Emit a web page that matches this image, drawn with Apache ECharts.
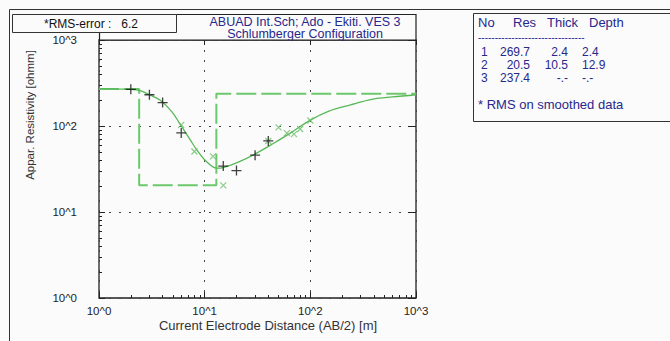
<!DOCTYPE html>
<html>
<head>
<meta charset="utf-8">
<script src="https://cdn.jsdelivr.net/npm/echarts@6.0.0/dist/echarts.min.js"></script>
<style>
  html, body { margin: 0; padding: 0; background: #fbfbfb; }
  #VesChart { width: 670px; height: 341px; }
</style>
</head>
<body>
<div id="VesChart"></div>
<script>
// layered model (table on the right)
const layerNo = [1, 2, 3];
const layerRes = [269.7, 20.5, 237.4];
const layerThick = [2.4, 10.5];
const layerDepth = [2.4, 12.9];
const rmsError = 6.2;

// field data (+)
const obsX = [2, 3, 4, 6, 15, 20, 30, 40];
const obsY = [267, 231, 187, 83, 34.2, 30.3, 45.8, 67];

// smoothed data (x)
const smoX = [6, 8, 12, 15, 40, 50, 60, 70, 80, 100];
const smoY = [103, 50.5, 44.3, 20.4, 67, 96.4, 82.6, 80.4, 92.3, 116];

// model response curve
const curveX = [1, 1.6, 2.4, 3, 3.8, 4.9, 5.8, 7.3, 8.4, 10, 13, 15, 21.6, 31, 45, 64, 100, 150, 240, 390, 600, 1000];
const curveY = [272, 269, 260, 231, 199, 146, 107, 69, 53, 40.5, 32.4, 32.9, 38.7, 48.3, 63, 82, 117, 149, 176, 205, 218, 231];

// axis ticks
const decades = [1, 10, 100, 1000];
const minorTicks = [];
for (let d = 0; d < 3; d++) {
    for (let k = 2; k <= 9; k++) minorTicks.push(k * decades[d]);
}

const green = '#58b858';
const blue = '#26288c';
const font = 'Liberation Sans, Arial, sans-serif';

// step line of the model
let modelLine = [[1, layerRes[0]]];
for (let i = 0; i < layerDepth.length; i++) {
    modelLine.push([layerDepth[i], layerRes[i]]);
    modelLine.push([layerDepth[i], layerRes[i + 1]]);
}
modelLine.push([1000, layerRes[layerRes.length - 1]]);

const pack = (xs, ys) => xs.map((x, i) => [x, ys[i]]);
const powLabel = v => '10^' + Math.round(Math.log10(v));

const logAxis = (extra) => Object.assign({
    type: 'log', logBase: 10, min: 1, max: 1000,
    axisLine: { show: false },
    axisTick: { show: false },
    axisLabel: { show: false },
    splitLine: { show: false }
}, extra);

// table texts
const tableX = { no: 481, res: 530, thick: 568, depth: 582 };
let tableTexts = [
    { type: 'text', left: 478, top: 16, style: { text: 'No', fill: blue, font: '13px ' + font } },
    { type: 'text', left: 513, top: 16, style: { text: 'Res', fill: blue, font: '13px ' + font } },
    { type: 'text', left: 547, top: 16, style: { text: 'Thick', fill: blue, font: '13px ' + font } },
    { type: 'text', left: 589, top: 16, style: { text: 'Depth', fill: blue, font: '13px ' + font } },
    { type: 'text', left: 478, top: 32, style: { text: '--------------------------------', fill: blue, font: '10px ' + font } },
    { type: 'text', left: 478, top: 98, style: { text: '* RMS on smoothed data', fill: blue, font: '13px ' + font } }
];
layerNo.forEach((n, i) => {
    const y = 52 + i * 13.2;
    const th = i < layerThick.length ? String(layerThick[i]) : '-.-';
    const dp = i < layerDepth.length ? String(layerDepth[i]) : '-.-';
    const cell = (x, text, align) => ({
        type: 'text', x: x, y: y,
        style: { text: text, fill: blue, font: '12px ' + font, textAlign: align, textVerticalAlign: 'middle' }
    });
    tableTexts.push(cell(tableX.no, String(n), 'left'));
    tableTexts.push(cell(tableX.res, layerRes[i].toFixed(1), 'right'));
    tableTexts.push(cell(tableX.thick, th, 'right'));
    tableTexts.push(cell(tableX.depth, dp, 'left'));
});

const chart = echarts.init(document.getElementById('VesChart'), null, { renderer: 'svg' });

chart.setOption({
    backgroundColor: '#fbfbfb',
    animation: false,
    grid: {
        left: 99, right: 254, top: 40, bottom: 43,
        show: true, borderColor: '#222', borderWidth: 1.3
    },
    xAxis: [
        logAxis({
            position: 'bottom',
            axisTick: { show: true, inside: true, length: 6, lineStyle: { color: '#222' } },
            axisLabel: { show: true, formatter: powLabel, margin: 7, color: '#222', fontSize: 11.5, fontFamily: font },
            splitLine: { show: true, lineStyle: { color: '#444', type: [2, 8], width: 1 } }
        }),
        logAxis({
            position: 'bottom',
            axisTick: { show: true, inside: true, length: 3, customValues: minorTicks, lineStyle: { color: '#222' } }
        }),
        logAxis({
            position: 'top',
            axisTick: { show: true, inside: true, length: 5, lineStyle: { color: '#222' } }
        })
    ],
    yAxis: [
        logAxis({
            position: 'left',
            axisTick: { show: true, inside: true, length: 6, lineStyle: { color: '#222' } },
            axisLabel: { show: true, formatter: powLabel, margin: 22, color: '#222', fontSize: 11.5, fontFamily: font },
            splitLine: { show: true, lineStyle: { color: '#444', type: [2, 8], width: 1 } }
        }),
        logAxis({
            position: 'left',
            axisTick: { show: true, inside: true, length: 3, customValues: minorTicks, lineStyle: { color: '#222' } }
        }),
        logAxis({
            position: 'right',
            axisTick: { show: true, inside: true, length: 8, lineStyle: { color: '#222' } }
        })
    ],
    series: [
        {
            name: 'model',
            type: 'line',
            data: modelLine,
            showSymbol: false,
            lineStyle: { color: '#6cc86c', width: 2, type: [20, 5] },
            z: 2
        },
        {
            name: 'response',
            type: 'line',
            data: pack(curveX, curveY),
            smooth: 0.35,
            showSymbol: false,
            lineStyle: { color: green, width: 1.3 },
            z: 3
        },
        {
            name: 'smoothed',
            type: 'scatter',
            data: pack(smoX, smoY),
            symbol: 'path://M0,0 L10,10 M10,0 L0,10',
            symbolSize: 6,
            itemStyle: { color: 'transparent', borderColor: '#6cbf6c', borderWidth: 1.2 },
            z: 4
        },
        {
            name: 'field',
            type: 'scatter',
            data: pack(obsX, obsY),
            symbol: 'path://M0,5 L10,5 M5,0 L5,10',
            symbolSize: 10,
            itemStyle: { color: 'transparent', borderColor: '#111', borderWidth: 1.3 },
            z: 5
        }
    ],
    graphic: [
        // outer frame
        { type: 'line', shape: { x1: 9.5, y1: 9.5, x2: 670, y2: 9.5 }, style: { stroke: '#333', lineWidth: 1 } },
        { type: 'line', shape: { x1: 9.5, y1: 9.5, x2: 9.5, y2: 341 }, style: { stroke: '#333', lineWidth: 1 } },
        // title box
        { type: 'rect', shape: { x: 99.5, y: 14.5, width: 316.5, height: 25.5 }, style: { fill: '#fbfbfb', stroke: '#222', lineWidth: 1.2 } },
        { type: 'text', x: 305, y: 21.5, style: { text: 'ABUAD Int.Sch; Ado - Ekiti. VES 3', fill: blue, font: '12.5px ' + font, textAlign: 'center', textVerticalAlign: 'middle' } },
        { type: 'text', x: 305, y: 34, style: { text: 'Schlumberger Configuration', fill: blue, font: '12.5px ' + font, textAlign: 'center', textVerticalAlign: 'middle' } },
        // rms box, drawn over the title box
        { type: 'rect', shape: { x: 12.5, y: 14.5, width: 164, height: 18 }, style: { fill: '#fbfbfb', stroke: '#333', lineWidth: 1 } },
        { type: 'text', left: 44, top: 18, style: { text: '*RMS-error :   ' + rmsError, fill: '#111', font: '12px ' + font } },
        // axis names
        { type: 'text', x: 30, y: 115, rotation: Math.PI / 2, style: { text: 'Appar. Resistivity [ohmm]', fill: '#333', font: '11.5px ' + font, textAlign: 'center', textVerticalAlign: 'middle' } },
        { type: 'text', x: 268, y: 325, style: { text: 'Current Electrode Distance (AB/2) [m]', fill: '#333', font: '13px ' + font, textAlign: 'center', textVerticalAlign: 'middle' } },
        // layer table box
        { type: 'rect', shape: { x: 473.5, y: 13.5, width: 200, height: 108 }, style: { fill: '#fbfbfb', stroke: '#333', lineWidth: 1 } }
    ].concat(tableTexts)
});
</script>
</body>
</html>
